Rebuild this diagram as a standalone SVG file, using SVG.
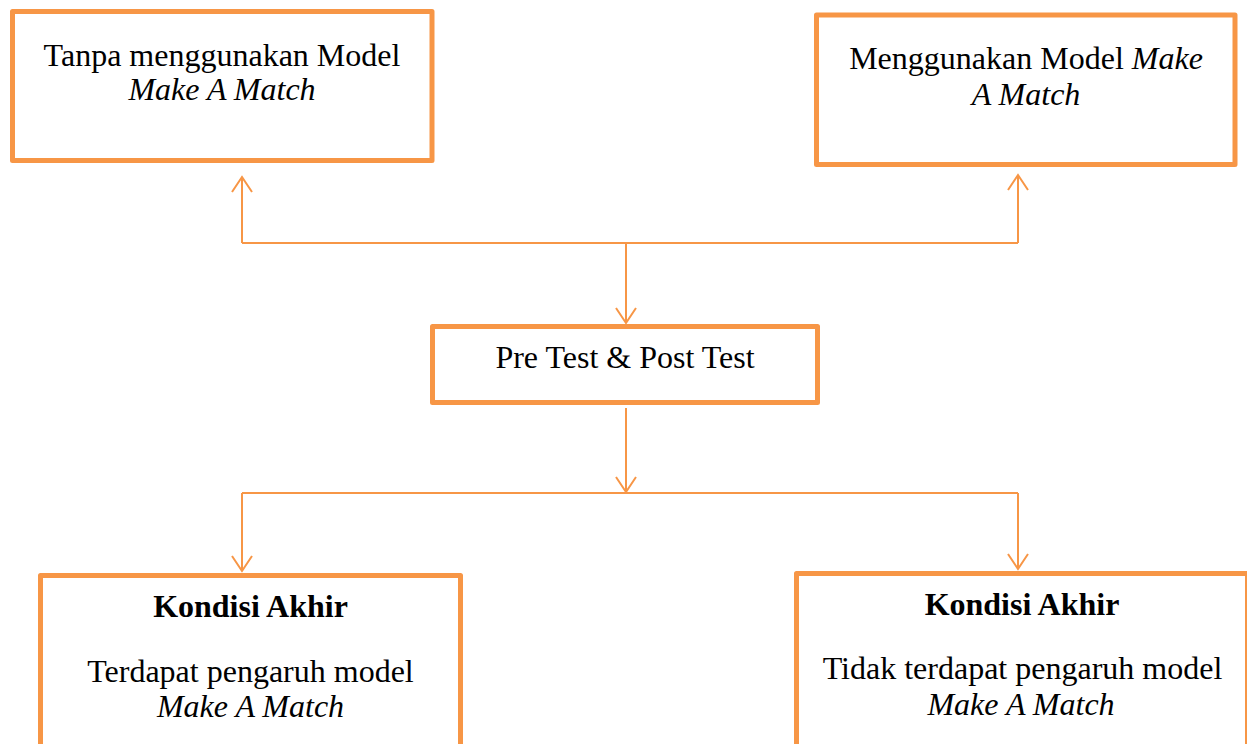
<svg xmlns="http://www.w3.org/2000/svg" width="1247" height="744" viewBox="0 0 1247 744">
  <style>
    .box { fill: #ffffff; stroke: #F79646; stroke-width: 5; stroke-linejoin: round; }
    .link { fill: none; stroke: #F79646; stroke-width: 2; }
    .t { font-family: "Liberation Serif", "Times New Roman", serif; font-size: 32px; fill: #000000; text-anchor: middle; }
    .i { font-style: italic; }
    .b { font-weight: bold; }
  </style>
  <defs>
    <marker id="open" markerUnits="userSpaceOnUse" viewBox="-16 -12 18 24" refX="0" refY="0" markerWidth="18" markerHeight="24" orient="auto" overflow="visible">
      <path d="M -15 -10 L 0 0 L -15 10" fill="none" stroke="#F79646" stroke-width="2"/>
    </marker>
  </defs>

  <g id="connectors">
    <line class="link" x1="242" y1="243" x2="1018" y2="243"/>
    <line class="link" x1="242" y1="243" x2="242" y2="177" marker-end="url(#open)"/>
    <line class="link" x1="1018" y1="243" x2="1018" y2="175" marker-end="url(#open)"/>
    <line class="link" x1="626" y1="243" x2="626" y2="323" marker-end="url(#open)"/>
    <line class="link" x1="626" y1="408" x2="626" y2="492" marker-end="url(#open)"/>
    <line class="link" x1="242" y1="493" x2="1018" y2="493"/>
    <line class="link" x1="242" y1="493" x2="242" y2="571" marker-end="url(#open)"/>
    <line class="link" x1="1018" y1="493" x2="1018" y2="569" marker-end="url(#open)"/>
  </g>

  <g id="tanpa-model">
    <rect class="box" x="12.5" y="11.5" width="419.5" height="149"/>
    <text class="t" x="222" y="66">Tanpa menggunakan Model</text>
    <text class="t i" x="222" y="100">Make A Match</text>
  </g>

  <g id="menggunakan-model">
    <rect class="box" x="816.5" y="15" width="418.5" height="149.5"/>
    <text class="t" x="1026" y="69">Menggunakan Model <tspan class="i">Make</tspan></text>
    <text class="t i" x="1026" y="105">A Match</text>
  </g>

  <g id="pre-post-test">
    <rect class="box" x="432.5" y="326.5" width="385" height="76"/>
    <text class="t" x="625" y="368">Pre Test &amp; Post Test</text>
  </g>

  <g id="kondisi-akhir-ada">
    <rect class="box" x="40.5" y="575.5" width="420" height="200"/>
    <text class="t b" x="250.5" y="617">Kondisi Akhir</text>
    <text class="t" x="250.5" y="682">Terdapat pengaruh model</text>
    <text class="t i" x="250.5" y="717">Make A Match</text>
  </g>

  <g id="kondisi-akhir-tidak">
    <rect class="box" x="796.5" y="573.5" width="451" height="200"/>
    <text class="t b" x="1022" y="615">Kondisi Akhir</text>
    <text class="t" x="1022.5" y="679">Tidak terdapat pengaruh model</text>
    <text class="t i" x="1021" y="715">Make A Match</text>
  </g>
</svg>
